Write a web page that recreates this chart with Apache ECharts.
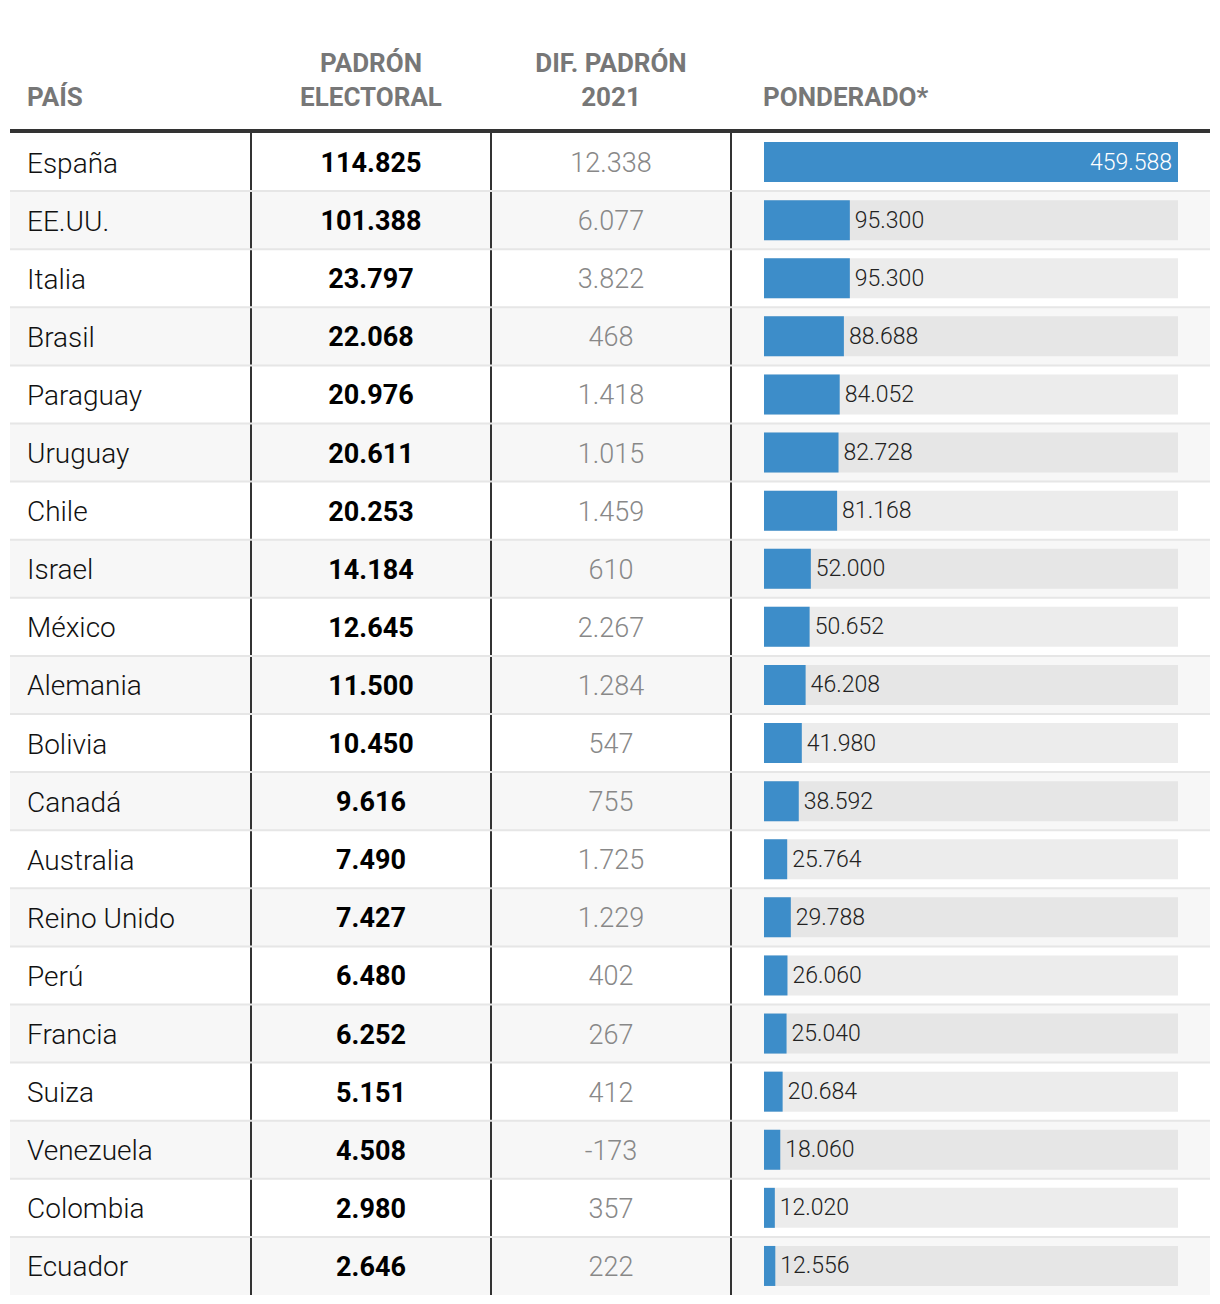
<!DOCTYPE html>
<html>
<head>
<meta charset="utf-8">
<script src="https://cdn.jsdelivr.net/npm/echarts@6/dist/echarts.min.js"></script>
<style>
html,body{margin:0;padding:0;background:#fff;}
#chart{width:1220px;height:1304px;}
</style>
</head>
<body>
<div id="chart"></div>
<script>
const countries = ['España','EE.UU.','Italia','Brasil','Paraguay','Uruguay','Chile','Israel','México','Alemania','Bolivia','Canadá','Australia','Reino Unido','Perú','Francia','Suiza','Venezuela','Colombia','Ecuador'];
const padron = [114825,101388,23797,22068,20976,20611,20253,14184,12645,11500,10450,9616,7490,7427,6480,6252,5151,4508,2980,2646];
const difPadron = [12338,6077,3822,468,1418,1015,1459,610,2267,1284,547,755,1725,1229,402,267,412,-173,357,222];
const ponderado = [459588,95300,95300,88688,84052,82728,81168,52000,50652,46208,41980,38592,25764,29788,26060,25040,20684,18060,12020,12556];
const headers = {pais:'PAÍS', padron:['PADRÓN','ELECTORAL'], dif:['DIF. PADRÓN','2021'], pond:'PONDERADO*'};

function fmt(n){
  const s = Math.abs(n).toString().replace(/\B(?=(\d{3})+(?!\d))/g,'.');
  return (n<0?'-':'') + s;
}

const FONT = 'Roboto, "Noto Sans", sans-serif';
const maxVal = Math.max.apply(null, ponderado);
const chart = echarts.init(document.getElementById('chart'), null, {renderer:'svg'});

const headStyle = {fill:'#777', font:'bold 26px ' + FONT};
const option = {
  animation:false,
  backgroundColor:'#fff',
  grid:{left:764, top:133, width:414, height:1162},
  xAxis:{type:'value', min:0, max:maxVal, show:false},
  yAxis:{type:'category', data:countries, inverse:true, show:false},
  graphic:[
    {type:'text', x:27, y:97, style:Object.assign({text:headers.pais, align:'left', verticalAlign:'middle'}, headStyle)},
    {type:'text', x:371, y:63, style:Object.assign({text:headers.padron[0], align:'center', verticalAlign:'middle'}, headStyle)},
    {type:'text', x:371, y:97, style:Object.assign({text:headers.padron[1], align:'center', verticalAlign:'middle'}, headStyle)},
    {type:'text', x:611, y:63, style:Object.assign({text:headers.dif[0], align:'center', verticalAlign:'middle'}, headStyle)},
    {type:'text', x:611, y:97, style:Object.assign({text:headers.dif[1], align:'center', verticalAlign:'middle'}, headStyle)},
    {type:'text', x:763, y:97, style:Object.assign({text:headers.pond, align:'left', verticalAlign:'middle'}, headStyle)},
    {type:'rect', shape:{x:10, y:129, width:1200, height:4}, style:{fill:'#333'}, z:10}
  ],
  series:[
    {
      type:'custom',
      z:1,
      data: countries.map((c,i)=>[0,i]),
      encode:{x:0, y:1},
      renderItem:function(params, api){
        const idx = api.value(1);
        const c = api.coord([0, idx]);
        const cEnd = api.coord([maxVal, idx]);
        const band = api.size([0,1])[1];
        const top = c[1] - band/2;
        const cy = c[1];
        const ty = cy + 1;
        const odd = idx % 2 === 1;
        const ch = [];
        ch.push({type:'rect', shape:{x:10, y:top, width:1200, height:band}, style:{fill: odd ? '#f7f7f7' : '#ffffff'}});
        [251,491,731].forEach(function(x){
          ch.push({type:'rect', shape:{x:x-1, y:top, width:2, height:band}, style:{fill:'#333'}});
        });
        if(idx>0){
          ch.push({type:'rect', shape:{x:10, y:top-1, width:1200, height:2}, style:{fill:'#e6e6e6'}});
        }
        ch.push({type:'rect', shape:{x:c[0], y:cy-20, width:cEnd[0]-c[0], height:40}, style:{fill: odd ? '#e6e6e6' : '#ececec'}});
        ch.push({type:'text', style:{text:countries[idx], x:27, y:ty, align:'left', verticalAlign:'middle', fill:'#111', font:'300 28px ' + FONT}});
        ch.push({type:'text', style:{text:fmt(padron[idx]), x:371, y:ty, align:'center', verticalAlign:'middle', fill:'#000', font:'bold 27px ' + FONT}});
        ch.push({type:'text', style:{text:fmt(difPadron[idx]), x:611, y:ty, align:'center', verticalAlign:'middle', fill:'#888', font:'300 27px ' + FONT}});
        return {type:'group', children:ch};
      }
    },
    {
      type:'bar',
      z:3,
      barWidth:40,
      data: ponderado.map(function(v,i){
        return {
          value:v,
          label: i===0 ? {position:'insideRight', color:'#fff', distance:6} : {position:'right', color:'#222', distance:5}
        };
      }),
      itemStyle:{color:'#3d8dc9'},
      label:{show:true, fontFamily:FONT, fontSize:23, fontWeight:300, formatter:function(p){return fmt(p.value);}}
    }
  ]
};
chart.setOption(option);
</script>
</body>
</html>
